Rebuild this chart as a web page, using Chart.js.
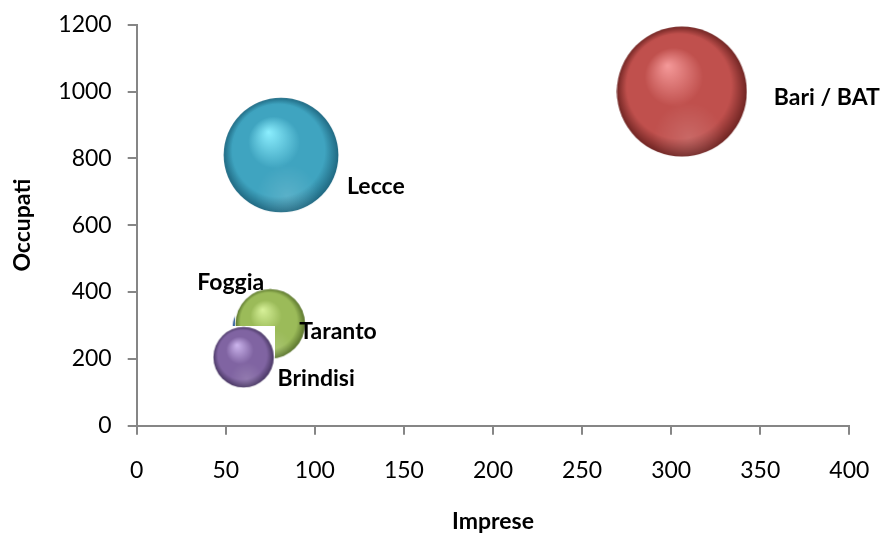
<!DOCTYPE html>
<html>
<head>
<meta charset="utf-8">
<script src="https://cdn.jsdelivr.net/npm/chart.js@4"></script>
<style>
  html, body { margin: 0; padding: 0; background: #ffffff; }
  #wrap { width: 885px; height: 536px; }
</style>
</head>
<body>
<div id="wrap"><canvas id="grafico"></canvas></div>
<script>
// Imprese e occupati per provincia (dimensione della bolla: peso relativo)
const province   = ['Foggia', 'Bari / BAT', 'Taranto', 'Brindisi', 'Lecce'];
const imprese    = [64, 306, 75, 60, 81];
const occupati   = [300, 1000, 305, 205, 810];
const dimensione = [8, 100, 29, 22, 78];

const xTicks = [0, 50, 100, 150, 200, 250, 300, 350, 400];
const yTicks = [0, 200, 400, 600, 800, 1000, 1200];

// Sfere: colore base, riflesso, bordo scuro
const palette = [
  { base: '#4F81BD', light: '#A9C8F0', dark: '#2B4E7C' },
  { base: '#C0504D', light: '#F59A9A', dark: '#6E2422' },
  { base: '#9BBB59', light: '#D8F29A', dark: '#56702A' },
  { base: '#8064A2', light: '#CDB6EE', dark: '#45345F' },
  { base: '#3FA4C0', light: '#8CEFFF', dark: '#1F6780' }
];

const FONT = 'Lato, "DejaVu Sans", sans-serif';
const RAGGIO_MAX = 65.5;
const raggio = v => RAGGIO_MAX * Math.sqrt(v / Math.max(...dimensione));

// Immagine di una sfera ombreggiata su fondo quadrato bianco
function sfera(r, col) {
  const s = Math.ceil(2 * r);
  const cv = document.createElement('canvas');
  cv.width = s; cv.height = s;
  const g = cv.getContext('2d');
  g.fillStyle = '#ffffff';
  g.fillRect(0, 0, s, s);
  const c = s / 2;
  const grad = g.createRadialGradient(c - 0.22 * r, c - 0.4 * r, 0, c, c, r);
  grad.addColorStop(0, col.light);
  grad.addColorStop(0.45, col.base);
  grad.addColorStop(0.8, col.base);
  grad.addColorStop(1, col.dark);
  g.beginPath();
  g.arc(c, c, r - 0.5, 0, Math.PI * 2);
  g.fillStyle = grad;
  g.fill();
  // riflesso tenue nella parte bassa
  g.save();
  g.clip();
  const rif = g.createRadialGradient(c + 0.1 * r, c + 0.7 * r, 0, c + 0.1 * r, c + 0.7 * r, 0.55 * r);
  rif.addColorStop(0, 'rgba(255,255,255,0.14)');
  rif.addColorStop(1, 'rgba(255,255,255,0)');
  g.fillStyle = rif;
  g.fillRect(0, 0, s, s);
  g.restore();
  return cv;
}

const immagini = dimensione.map((v, i) => sfera(raggio(v), palette[i]));

// Posizione delle etichette rispetto al centro della bolla
const posEtichette = [
  { dx: -20, dy: -43, align: 'center' },
  { dx: 92, dy: 6, align: 'left' },
  { dx: 29, dy: 8, align: 'left' },
  { dx: 34, dy: 21, align: 'left' },
  { dx: 66, dy: 32, align: 'left' }
];

const etichette = {
  id: 'etichette',
  afterDatasetsDraw(chart) {
    const ctx = chart.ctx;
    const meta = chart.getDatasetMeta(0);
    ctx.save();
    ctx.font = 'bold 23px ' + FONT;
    ctx.fillStyle = '#000000';
    ctx.textBaseline = 'middle';
    meta.data.forEach((el, i) => {
      const p = posEtichette[i];
      ctx.textAlign = p.align;
      ctx.fillText(province[i], el.x + p.dx, el.y + p.dy);
    });
    ctx.restore();
  }
};

const punti = province.map((nome, i) => ({
  x: imprese[i], y: occupati[i], r: raggio(dimensione[i])
}));

const GRIGIO = '#868686';

new Chart(document.getElementById('grafico'), {
  type: 'bubble',
  data: {
    labels: province,
    datasets: [{
      label: 'Occupati',
      data: punti,
      pointStyle: immagini,
      borderWidth: 0,
      hoverBorderWidth: 0,
      clip: false
    }]
  },
  options: {
    responsive: true,
    maintainAspectRatio: false,
    animation: false,
    events: [],
    layout: { autoPadding: false, padding: { left: 0, right: 35.7, top: 24.7, bottom: 0 } },
    plugins: {
      legend: { display: false },
      tooltip: { enabled: false }
    },
    scales: {
      x: {
        type: 'linear',
        min: 0, max: 400,
        afterBuildTicks: s => { s.ticks = xTicks.map(v => ({ value: v })); },
        afterFit: s => { s.height = 110.3; s.paddingLeft = 0; s.paddingRight = 0; },
        border: { display: true, color: GRIGIO, width: 2 },
        grid: { drawOnChartArea: false, drawTicks: true, tickLength: 9, color: GRIGIO, lineWidth: 2 },
        ticks: { color: '#000000', font: { family: FONT, size: 23 }, padding: 22, maxRotation: 0, callback: v => String(v) },
        title: { display: true, text: 'Imprese', color: '#000000', font: { family: FONT, size: 23, weight: 'bold' }, padding: { top: 0, bottom: 1 } }
      },
      y: {
        type: 'linear',
        min: 0, max: 1200,
        afterBuildTicks: s => { s.ticks = yTicks.map(v => ({ value: v })); },
        afterFit: s => { s.width = 136.7; s.paddingTop = 0; s.paddingBottom = 0; },
        border: { display: true, color: GRIGIO, width: 2 },
        grid: { drawOnChartArea: false, drawTicks: true, tickLength: 9, color: GRIGIO, lineWidth: 2 },
        ticks: { color: '#000000', font: { family: FONT, size: 23 }, padding: 16, callback: v => String(v) },
        title: { display: true, text: 'Occupati', color: '#000000', font: { family: FONT, size: 23, weight: 'bold' }, padding: { top: 9, bottom: 0 } }
      }
    }
  },
  plugins: [etichette]
});
</script>
</body>
</html>
